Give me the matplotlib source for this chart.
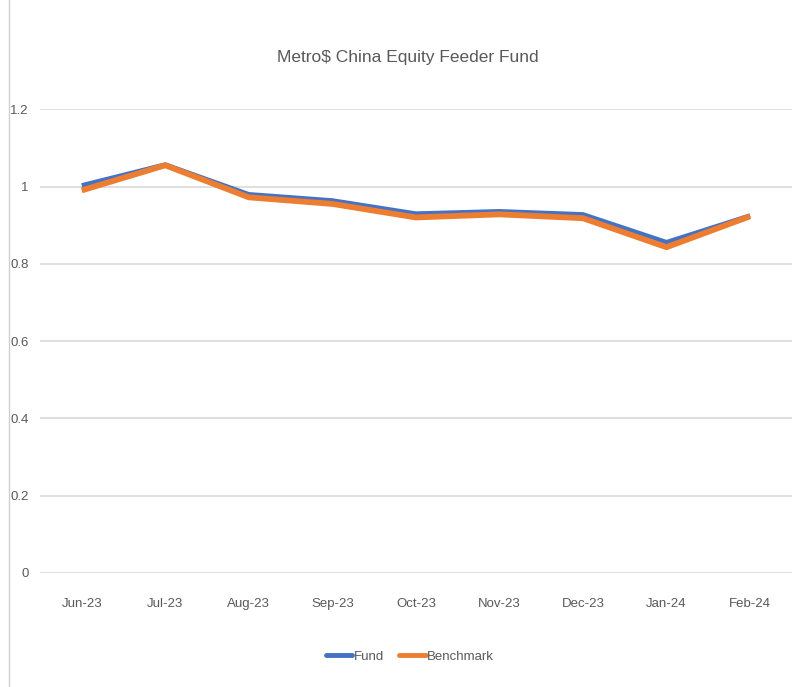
#!/usr/bin/env python3

import matplotlib
matplotlib.use("Agg")
import matplotlib.pyplot as plt
from matplotlib.lines import Line2D

# Data
months = ["Jun-23", "Jul-23", "Aug-23", "Sep-23", "Oct-23",
          "Nov-23", "Dec-23", "Jan-24", "Feb-24"]
fund = [1.003, 1.057, 0.980, 0.964, 0.930, 0.936, 0.928, 0.856, 0.925]
benchmark = [0.990, 1.055, 0.972, 0.955, 0.920, 0.928, 0.918, 0.843, 0.923]
y_ticks = [0, 0.2, 0.4, 0.6, 0.8, 1.0, 1.2]
y_labels = ["0", "0.2", "0.4", "0.6", "0.8", "1", "1.2"]

text_color = "#595959"
plt.rcParams["font.family"] = ["Liberation Sans", "DejaVu Sans"]

fig = plt.figure(figsize=(7.99, 6.87), dpi=100)
ax = fig.add_axes([0.050, 0.166, 0.941, 0.675])

x = range(len(months))
ax.plot(x, fund, color="#4472C4", linewidth=3.2, solid_capstyle="butt", zorder=3)
ax.plot(x, benchmark, color="#ED7D31", linewidth=4.2, solid_capstyle="butt", zorder=4)

ax.set_xlim(-0.5, len(months) - 0.5)
ax.set_ylim(0, 1.2)
ax.set_xticks(list(x))
ax.set_xticklabels(months)
ax.set_yticks(y_ticks)
ax.set_yticklabels(y_labels)
ax.tick_params(axis="both", length=0, colors=text_color, labelsize=9.5)
ax.tick_params(axis="x", pad=18)
ax.tick_params(axis="y", pad=8)
ax.grid(axis="y", color="#D9D9D9", linewidth=1.2)
ax.set_axisbelow(True)
for s in ax.spines.values():
    s.set_visible(False)

fig.text(0.511, 0.917, "Metro$ China Equity Feeder Fund", ha="center", va="center",
         fontsize=12.5, color=text_color)

handles = [Line2D([], [], color="#4472C4", linewidth=3.5, solid_capstyle="round"),
           Line2D([], [], color="#ED7D31", linewidth=3.5, solid_capstyle="round")]
fig.legend(handles, ["Fund", "Benchmark"], loc="center", bbox_to_anchor=(0.513, 0.044),
           ncol=2, frameon=False, fontsize=9.5, labelcolor=text_color,
           handlelength=2.0, handletextpad=0.1, columnspacing=1.2)

# light frame line on the left edge
fig.add_artist(Line2D([0.011, 0.011], [0, 1], transform=fig.transFigure,
                      color="#D0D0D0", linewidth=1))

fig.savefig("out.png", dpi=100)
